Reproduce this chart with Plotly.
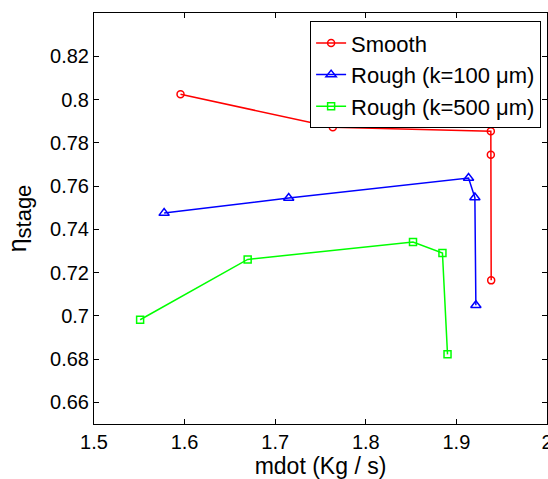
import plotly.graph_objects as go

# Data
smooth_x = [1.5955, 1.7636, 1.938, 1.938, 1.9384]
smooth_y = [0.8024, 0.7872, 0.7853, 0.7745, 0.7164]

rough100_x = [1.5774, 1.7149, 1.9134, 1.9204, 1.9215]
rough100_y = [0.7475, 0.7545, 0.7637, 0.7547, 0.7049]

rough500_x = [1.5509, 1.6696, 1.8521, 1.8846, 1.8902]
rough500_y = [0.6982, 0.7261, 0.7341, 0.7290, 0.6822]

series_names = ["Smooth", "Rough (k=100 μm)", "Rough (k=500 μm)"]
x_ticks = [1.5, 1.6, 1.7, 1.8, 1.9, 2.0]
x_tick_labels = ["1.5", "1.6", "1.7", "1.8", "1.9", "2"]
y_ticks = [0.66, 0.68, 0.70, 0.72, 0.74, 0.76, 0.78, 0.80, 0.82]
y_tick_labels = ["0.66", "0.68", "0.7", "0.72", "0.74", "0.76", "0.78", "0.8", "0.82"]

FONT = "Liberation Sans, Arial, sans-serif"

fig = go.Figure()
fig.add_trace(go.Scatter(
    x=smooth_x, y=smooth_y, mode="lines+markers", name=series_names[0],
    legendgroup="a",
    line=dict(color="#FF0000", width=1.5),
    marker=dict(symbol="circle-open", size=7, color="#FF0000", line=dict(width=1.5)),
))
fig.add_trace(go.Scatter(
    x=rough100_x, y=rough100_y, mode="lines+markers", name=series_names[1],
    legendgroup="b",
    line=dict(color="#0000FF", width=1.5),
    marker=dict(symbol="triangle-up-open", size=9, color="#0000FF", line=dict(width=1.5)),
))
fig.add_trace(go.Scatter(
    x=rough500_x, y=rough500_y, mode="lines+markers", name=series_names[2],
    legendgroup="c",
    line=dict(color="#00FF00", width=1.5),
    marker=dict(symbol="square-open", size=7, color="#00FF00", line=dict(width=1.5)),
))

axis_common = dict(
    showgrid=False, zeroline=False, showline=True, linecolor="black", linewidth=1,
    mirror="ticks", ticks="inside", ticklen=5, tickcolor="black", automargin=False,
    ticklabeloverflow="allow",
    tickfont=dict(family=FONT, size=20, color="black"),
)

fig.update_layout(
    width=548, height=479,
    margin=dict(l=94, r=1, t=13, b=55),
    paper_bgcolor="white", plot_bgcolor="white",
    font=dict(family=FONT, color="black"),
    xaxis=dict(
        range=[1.5, 2.0], tickvals=x_ticks, ticktext=x_tick_labels,
        title=dict(text="mdot (Kg / s)", font=dict(family=FONT, size=23), standoff=2),
        **axis_common,
    ),
    yaxis=dict(
        range=[0.65, 0.84], tickvals=y_ticks, ticktext=y_tick_labels,
        title=dict(text="η<sub><span style='font-size:22px'>stage</span></sub>",
                   font=dict(family=FONT, size=25), standoff=16),
        **axis_common,
    ),
    legend=dict(
        x=0.987, y=0.98, xanchor="right", yanchor="top",
        bgcolor="white", bordercolor="black", borderwidth=1,
        font=dict(family=FONT, size=22, color="black"),
        tracegroupgap=0, itemwidth=30,
    ),
    showlegend=True,
)

fig.write_html(
    "out.html",
    config={"displayModeBar": False},
    post_script="document.body.style.margin='0';document.body.style.overflow='hidden';",
)
